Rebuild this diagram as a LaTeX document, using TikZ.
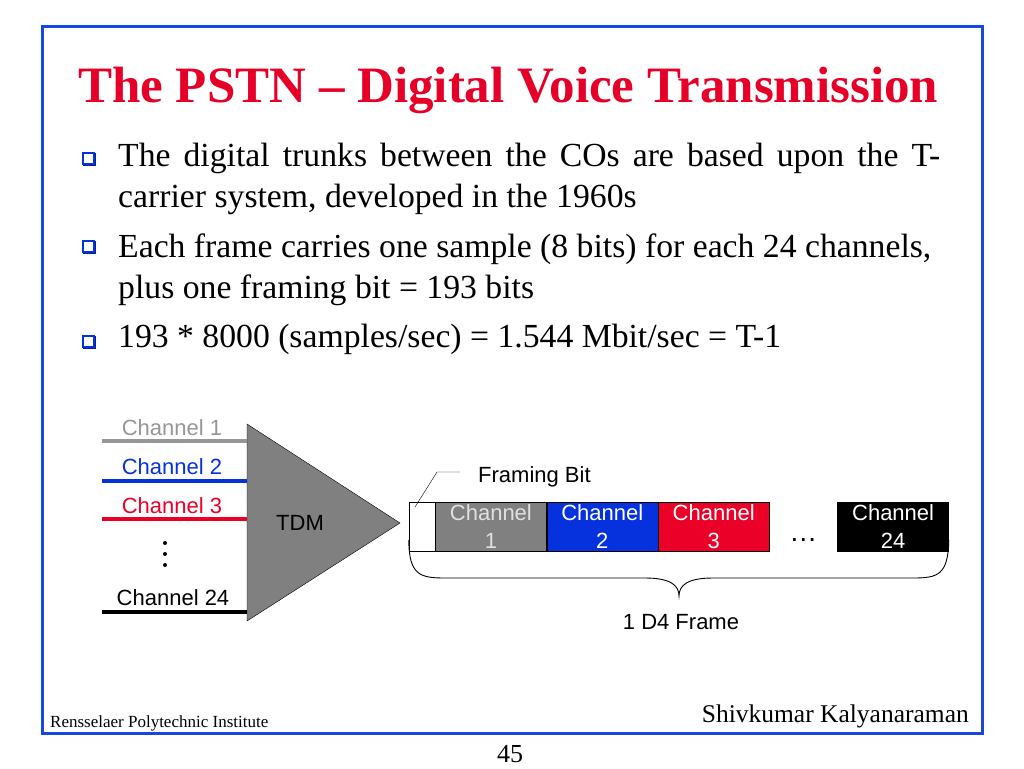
\documentclass[tikz,border=0pt]{standalone}
\usepackage{fontspec}
\setmainfont{Liberation Serif}
\setsansfont{Liberation Sans}
\usepackage{tikz}
\usetikzlibrary{positioning,calc}

\definecolor{framecol}{RGB}{25,70,220}
\definecolor{titlered}{RGB}{230,0,40}
\definecolor{chgray}{RGB}{150,150,150}
\definecolor{slotgray}{RGB}{128,128,128}
\definecolor{chblue}{RGB}{5,50,220}
\definecolor{chred}{RGB}{235,0,40}

\tikzset{
  bullettext/.style={anchor=base west,inner sep=0pt,align=left,font=\fontsize{33.7}{41}\selectfont},
  bulletbox/.style={draw=chblue,line width=2pt,fill=white,minimum size=11pt,inner sep=0pt,
    preaction={draw=chblue!70!black,line width=2pt,transform canvas={shift={(1.2pt,-1.2pt)}}}},
  chlabel/.style={inner sep=0pt,font=\sffamily\fontsize{22}{26}\selectfont},
  chline/.style={line width=4pt},
  slot/.style={draw,minimum width=111pt,minimum height=49pt,inner sep=0pt,align=center,
    text=white,font=\sffamily\fontsize{22}{28}\selectfont},
}

\begin{document}
\begin{tikzpicture}[x=1pt,y=1pt,yscale=-1,xscale=1]
    \useasboundingbox (0,0) rectangle (1024,768);

    %Shape: Slide frame
    \draw [framecol,line width=3pt] (42,27) rectangle (982,733);

    % Text Node
    \node (title) [anchor=base west,inner sep=0pt,text=titlered,font=\bfseries\fontsize{51}{56}\selectfont] at (78,102) {The PSTN -- Digital Voice Transmission};

    % Bullets (base = last line)
    \node (b1) [bulletbox] at (88.5,158) {};
    \node (t1) [bullettext] at (118,207) {\makebox[822pt][s]{The digital trunks between the COs are based upon the T-}\\carrier system, developed in the 1960s};
    \node (b2) [bulletbox] at (88.5,246) {};
    \node (t2) [bullettext] at (118,298) {Each frame carries one sample (8 bits) for each 24 channels,\\plus one framing bit = 193 bits};
    \node (b3) [bulletbox] at (88.5,341) {};
    \node (t3) [bullettext] at (118,347) {193 * 8000 (samples/sec) = 1.544 Mbit/sec = T-1};

    %Shape: TDM triangle
    \coordinate (tdmtop) at (247,424);
    \coordinate (tdmbot) at (247,621);
    \coordinate (tdmout) at (400,523);
    \draw [fill=slotgray] (tdmtop) -- (tdmout) -- (tdmbot) -- cycle;
    \node (tdm) [chlabel] at (300,523) {TDM};

    % Input channels
    \coordinate (in1) at (102,441);
    \coordinate (in2) at (102,481);
    \coordinate (in3) at (102,519);
    \coordinate (in24) at (102,612);
    \draw [chline,chgray] (in1) -- (in1 -| tdmtop);
    \draw [chline,chblue] (in2) -- (in2 -| tdmtop);
    \draw [chline,chred] (in3) -- (in3 -| tdmtop);
    \draw [chline,black] (in24) -- (in24 -| tdmtop);
    \node (l1) [chlabel,text=chgray] at (172,428) {Channel 1};
    \node (l2) [chlabel,text=chblue] at (172,467) {Channel 2};
    \node (l3) [chlabel,text=chred] at (172,506) {Channel 3};
    \node (l24) [chlabel] at (173,598) {Channel 24};
    \foreach \y in {543,554,565} \fill (165,\y) circle (2pt);

    % Frame slots
    \node (fb) [slot,minimum width=26pt,fill=white] at (422,526.5) {};
    \node (s1) [slot,fill=slotgray,right=0pt of fb,text=black!12] {Channel\\1};
    \node (s2) [slot,fill=chblue,right=0pt of s1] {Channel\\2};
    \node (s3) [slot,fill=chred,right=0pt of s2] {Channel\\3};
    \node (s24) [slot,fill=black,right=68pt of s3] {Channel\\24};
    \node (dots) [inner sep=0pt,font=\sffamily\fontsize{28}{30}\selectfont] at ($(s3.east)!0.5!(s24.west)+(0,13)$) {\dots};

    % Framing bit label
    \node (fblabel) [chlabel,anchor=west] at (478,477) {Framing Bit};
    \coordinate (fbtip) at (415,507);
    \draw (fbtip) -- (437,472) -- (460,472);

    %Shape: Brace
    \coordinate (brl) at ([yshift=-11pt]fb.south west);
    \coordinate (brr) at ([yshift=-11pt]s24.south east);
    \draw [line width=0.9pt] (brl) .. controls (409,575) and (420,578) .. (445,578) -- (645,578)
      .. controls (670,578) and (679,585) .. (679,596)
      .. controls (679,585) and (688,578) .. (713,578) -- (913,578)
      .. controls (938,578) and (948,575) .. (brr);
    \node (frame) [chlabel] at (681,622) {1 D4 Frame};

    % Footer
    \node (inst) [anchor=base west,inner sep=0pt,font=\fontsize{17}{20}\selectfont] at (50,727) {Rensselaer Polytechnic Institute};
    \node (author) [anchor=base east,inner sep=0pt,font=\fontsize{25.5}{30}\selectfont] at (969,722) {Shivkumar Kalyanaraman};
    \node (page) [anchor=base,inner sep=0pt,font=\fontsize{26}{30}\selectfont] at (510,762) {45};

\end{tikzpicture}
\end{document}
